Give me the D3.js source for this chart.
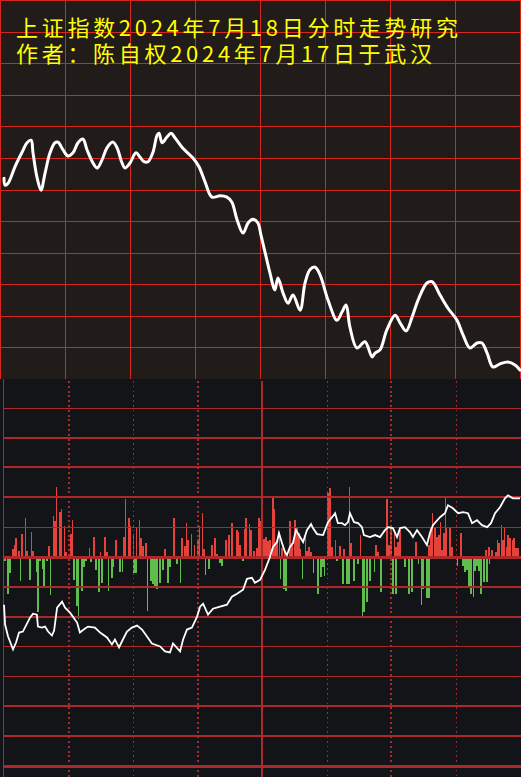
<!DOCTYPE html>
<html><head><meta charset="utf-8">
<script src="https://cdn.jsdelivr.net/npm/d3@7"></script>
<style>html,body{margin:0;padding:0;background:#131417;overflow:hidden}</style>
</head><body><svg id="c" width="521" height="777"></svg>
<script>
// ---------------- DATA ----------------
const titleLines = ["上证指数2024年7月18日分时走势研究", "作者：陈自权2024年7月17日于武汉"];
const priceTicks = [2945,2950,2955,2960,2965,2970,2975,2980,2985,2990,2995,3000];
const volTicks = [-210,-180,-150,-120,-90,-60,-30,0,30,60,90,120,150];
const timeTicks = [30,60,90,120,150,180,210];
const columnTicks = [0,1,2,3,4,5,6,7,8];

// [minute, index value]
const priceLine = [[0,2971.8],[0.5,2970.7],[1.9,2971.0],[5.1,2973.6],[8.4,2975.9],[10.7,2977.4],[12.6,2977.8],[13.5,2975.8],[15.3,2972.0],[17.2,2969.9],[19.1,2972.6],[21.4,2975.8],[23.7,2977.4],[25.1,2977.5],[27.4,2976.3],[29.8,2975.3],[32.1,2975.8],[34.4,2977.4],[36.7,2978.0],[38.6,2976.3],[41.4,2974.2],[43.3,2973.4],[45.6,2974.7],[47.9,2976.6],[50.7,2977.5],[52.6,2976.6],[54.9,2974.2],[56.3,2973.4],[58.6,2974.2],[61.4,2975.8],[63.3,2975.1],[65.1,2974.4],[67.0,2974.4],[69.3,2975.9],[71.2,2978.6],[72.1,2978.9],[73.5,2977.4],[75.8,2978.3],[77.7,2978.9],[79.5,2978.2],[82.8,2976.7],[85.1,2975.9],[87.9,2975.0],[90.7,2973.6],[93.5,2971.2],[96.7,2968.8],[100.5,2969.0],[103.7,2968.8],[106.0,2968.0],[108.4,2965.2],[111.2,2963.1],[113.5,2964.7],[115.8,2965.3],[118.1,2964.7],[119.5,2962.8],[121.4,2960.1],[123.7,2956.8],[126.0,2954.1],[127.4,2956.0],[129.8,2953.6],[132.1,2952.0],[134.4,2953.3],[137.7,2950.9],[140.0,2955.2],[142.3,2957.3],[144.7,2957.7],[147.0,2956.5],[150.7,2952.5],[154.9,2949.3],[157.2,2950.6],[159.1,2951.7],[160.9,2948.2],[164.2,2944.9],[167.9,2945.9],[171.2,2943.5],[172.6,2944.1],[174.9,2944.6],[178.1,2947.8],[181.9,2950.1],[184.2,2948.9],[187.0,2947.6],[189.8,2949.8],[192.6,2952.5],[196.7,2955.2],[199.1,2955.4],[202.8,2953.3],[206.5,2951.2],[210.7,2949.3],[213.5,2947.0],[216.7,2944.9],[220.0,2945.7],[222.3,2945.7],[224.7,2944.1],[227.4,2941.9],[230.7,2942.4],[234.4,2942.7],[237.7,2942.2],[240.0,2941.4]];

// [minute, cumulative flow]
const flowLine = [[0,-48],[0.5,-68],[1.9,-80],[4.2,-93],[5.6,-86],[7.0,-76],[8.8,-75],[12.1,-61],[13.5,-57],[15.3,-58],[15.8,-70],[17.7,-71],[19.1,-70],[20.5,-75],[22.3,-79],[23.3,-74],[24.7,-51],[27.0,-45],[28.4,-51],[30.7,-56],[34.0,-66],[35.3,-76],[37.7,-72],[39.1,-70],[42.3,-71],[44.7,-76],[47.9,-81],[50.2,-88],[51.6,-83],[53.5,-91],[55.3,-83],[57.2,-75],[59.5,-71],[61.9,-69],[64.2,-73],[66.5,-80],[68.8,-87],[72.6,-90],[74.9,-95],[77.2,-96],[78.6,-87],[81.9,-95],[83.3,-83],[85.1,-73],[87.4,-71],[89.8,-60],[91.2,-50],[92.6,-47],[94.9,-58],[97.2,-52],[100.5,-50],[103.7,-48],[106.0,-40],[108.4,-37],[111.2,-33],[113.0,-22],[115.3,-21],[116.7,-26],[119.1,-23],[121.4,-13],[123.7,0],[125.1,10],[127.0,15],[127.9,24],[129.3,14],[130.7,5],[131.6,2],[133.0,10],[134.4,14],[135.8,27],[137.7,20],[139.1,15],[140.9,27],[142.8,33],[143.7,29],[145.6,23],[148.4,22],[150.7,35],[152.6,40],[154.0,44],[155.3,34],[157.2,34],[158.6,32],[160.0,35],[160.9,44],[162.8,35],[164.7,34],[166.5,30],[167.4,22],[170.2,20],[172.6,22],[174.9,20],[177.2,27],[178.6,30],[180.9,29],[182.8,20],[184.2,29],[186.5,30],[188.8,25],[190.2,20],[192.1,27],[194.4,20],[196.7,12],[198.1,24],[199.5,32],[202.8,40],[205.1,44],[206.5,52],[208.8,49],[211.2,44],[213.5,45],[215.8,44],[217.7,34],[220.0,37],[222.3,32],[224.7,30],[226.5,34],[228.4,44],[230.7,50],[233.0,59],[234.4,62],[236.7,59],[240.0,59]];

// [minute, volume]
const upBars = [[3.7,8],[4.7,12],[5.1,19],[6.5,6],[7.9,23],[10.2,6],[13.0,6],[20.5,11],[23.3,36],[25.6,45],[28.4,5],[30.7,23],[41.4,20],[46.5,20],[47.4,5],[51.6,17],[55.3,20],[57.7,39],[63.3,19],[64.2,11],[65.6,14],[74.4,8],[78.6,39],[82.3,19],[83.7,11],[85.1,17],[89.8,16],[92.6,8],[96.3,12],[97.7,19],[98.6,3],[102.8,17],[104.2,22],[105.6,34],[107.9,27],[109.3,12],[112.1,39],[114.4,27],[115.8,6],[117.2,9],[118.1,39],[119.1,36],[120.5,18],[121.4,20],[122.3,16],[123.3,17],[124.7,61],[125.1,48],[126.0,15],[126.5,17],[128.8,9],[130.2,6],[132.6,36],[133.5,14],[134.9,37],[135.8,30],[136.7,24],[137.2,8],[140.5,6],[141.4,10],[142.3,5],[150.2,64],[151.2,69],[152.1,10],[155.8,11],[157.7,8],[160.9,14],[172.6,12],[173.5,5],[177.7,58],[178.6,12],[179.5,29],[181.9,10],[182.8,15],[183.7,27],[191.2,15],[197.2,12],[198.1,29],[200.0,30],[200.9,20],[201.9,22],[203.3,7],[204.2,24],[205.1,30],[207.0,30],[207.9,10],[212.1,24],[223.7,7],[225.1,10],[226.5,7],[228.4,5],[229.8,14],[231.6,17],[233.5,10],[234.0,22],[234.9,19],[236.7,19],[237.7,9],[238.6,9]];
const upSpikes = [[9.8,39],[12.6,25],[22.8,41],[24.2,70],[26.5,48],[27.9,31],[31.6,37],[39.5,9],[44.7,5],[56.3,58],[58.6,31],[60.0,23],[61.4,30],[62.8,37],[84.7,34],[87.0,23],[88.4,12],[90.7,31],[92.1,44],[108.8,25],[111.6,28],[114.0,33],[127.9,25],[140.0,23],[154.0,17],[160.5,70],[165.6,22],[181.4,25],[199.1,44],[202.8,35],[205.1,59],[229.3,17],[231.2,32],[232.6,30],[236.3,17]];
const downBars = [[0.0,-4],[1.4,-37],[2.3,-16],[11.6,-23],[14.9,-15],[15.3,-55],[16.3,-4],[17.7,-12],[18.1,-29],[19.5,-4],[32.1,-23],[33.5,-49],[35.8,-34],[36.7,-10],[37.7,-4],[40.0,-5],[42.3,-13],[43.7,-35],[45.1,-26],[49.8,-21],[50.2,-10],[52.6,-2],[53.5,-15],[60.0,-16],[60.9,-16],[67.9,-24],[68.8,-27],[69.8,-30],[70.7,-32],[72.1,-26],[73.5,-13],[75.8,-26],[76.7,-10],[80.0,-7],[87.4,-2],[94.9,-12],[100.0,-6],[100.9,-9],[110.7,-4],[129.8,-32],[130.7,-34],[145.6,-37],[147.0,-20],[147.9,-10],[154.4,-4],[157.2,-27],[159.1,-27],[160.0,-27],[162.3,-24],[164.2,-7],[167.0,-55],[168.4,-45],[169.8,-24],[174.9,-35],[180.5,-37],[181.9,-37],[186.0,-10],[187.9,-37],[189.3,-35],[194.4,-32],[196.3,-41],[197.2,-41],[213.0,-9],[213.9,-15],[214.9,-13],[215.8,-29],[216.7,-37],[218.6,-14],[219.5,-9],[220.5,-14],[221.4,-37],[222.8,-25],[224.2,-25]];
const downSpikes = [[7.4,-24],[21.4,-38],[34.4,-62],[48.4,-34],[54.9,-15],[66.5,-54],[81.9,-26],[93.5,-18],[128.4,-22],[138.6,-22],[143.7,-16],[148.8,-19],[166.5,-59],[172.1,-15],[192.6,-7],[194.0,-48],[210.7,-9],[218.1,-40],[225.6,-7]];

// ---------------- DRAW ----------------
const W = 521, H = 777, TOP_H = 379;
const svg = d3.select("#c");
const x = d3.scaleLinear().domain([0, 240]).range([4, 520]);
const col = d3.scaleLinear().domain([0, 8]).range([0.5, 520.5]);
const yPrice = d3.scaleLinear().domain([2940, 3000]).range([TOP_H, 0]);
const yVol = d3.scaleLinear().domain([-210, 150]).range([765.8, 407.8]);

const gridRed = "#d8261f", lowRed = "#ad2828";

// panels
svg.append("rect").attr("x",0).attr("y",0).attr("width",W).attr("height",TOP_H).attr("fill","#211b1a");
svg.append("rect").attr("x",0).attr("y",TOP_H).attr("width",W).attr("height",H-TOP_H).attr("fill","#131417");

const gTop = svg.append("g");
gTop.selectAll("line.h").data(priceTicks).join("line")
  .attr("x1",0).attr("x2",W)
  .attr("y1",d=>Math.round(yPrice(d))+0.5).attr("y2",d=>Math.round(yPrice(d))+0.5)
  .attr("stroke",gridRed).attr("stroke-width",1);
gTop.selectAll("line.v").data(columnTicks).join("line")
  .attr("x1",d=>col(d)).attr("x2",d=>col(d))
  .attr("y1",0).attr("y2",TOP_H)
  .attr("stroke",gridRed).attr("stroke-width",1);

svg.append("defs").append("clipPath").attr("id","topclip")
  .append("rect").attr("x",0).attr("y",0).attr("width",W).attr("height",TOP_H);

svg.append("path").datum(priceLine)
  .attr("clip-path","url(#topclip)")
  .attr("d", d3.line().x(d=>x(d[0])).y(d=>yPrice(d[1])).curve(d3.curveCatmullRom.alpha(0.5)))
  .attr("fill","none").attr("stroke","#ffffff").attr("stroke-width",3)
  .attr("stroke-linejoin","round").attr("stroke-linecap","round");

// title: one text block, two lines
const title = svg.append("text")
  .attr("font-family","'Noto Sans CJK SC', sans-serif")
  .attr("fill","#ffff00").attr("font-size",22);
title.selectAll("tspan").data(titleLines).join("tspan")
  .attr("x",16).attr("y",(d,i)=>35.5 + i*26.5)
  .attr("textLength",(d,i)=> i===0 ? 442 : 416)
  .attr("lengthAdjust","spacing")
  .text(d=>d);

// bottom panel bars
const gBars = svg.append("g").attr("shape-rendering","crispEdges");
const y0 = yVol(0);
gBars.selectAll("rect.ub").data(upBars).join("rect")
  .attr("x",d=>Math.round(x(d[0]))).attr("width",2)
  .attr("y",d=>yVol(d[1])).attr("height",d=>y0-yVol(d[1]))
  .attr("fill","#e5423c");
gBars.selectAll("rect.us").data(upSpikes).join("rect")
  .attr("x",d=>Math.round(x(d[0]))).attr("width",1)
  .attr("y",d=>yVol(d[1])).attr("height",d=>y0-yVol(d[1]))
  .attr("fill","#e5423c");
gBars.selectAll("rect.db").data(downBars).join("rect")
  .attr("x",d=>Math.round(x(d[0]))).attr("width",2)
  .attr("y",y0).attr("height",d=>yVol(d[1])-y0)
  .attr("fill","#5fbd4e");
gBars.selectAll("rect.ds").data(downSpikes).join("rect")
  .attr("x",d=>Math.round(x(d[0]))).attr("width",1)
  .attr("y",y0).attr("height",d=>yVol(d[1])-y0)
  .attr("fill","#5fbd4e");

// bottom grid
const hWidths = [1,2,2,2,1,3,2,2,1,1,2,2,3].reverse();
const gLow = svg.append("g").attr("shape-rendering","crispEdges");
gLow.selectAll("line").data(volTicks).join("line")
  .attr("x1",4).attr("x2",W)
  .attr("y1",d=>Math.round(yVol(d))).attr("y2",d=>Math.round(yVol(d)))
  .attr("stroke",lowRed).attr("stroke-width",(d,i)=>hWidths[i]);
gLow.append("line").attr("x1",3.5).attr("x2",3.5).attr("y1",TOP_H).attr("y2",H)
  .attr("stroke",lowRed).attr("stroke-width",1);
const thick = new Set([30,90,180]);
gLow.selectAll("line.t").data(timeTicks).join("line")
  .attr("x1",d=>Math.round(x(d))).attr("x2",d=>Math.round(x(d)))
  .attr("y1",TOP_H+2).attr("y2",H)
  .attr("stroke",lowRed)
  .attr("stroke-width",d=> d===120 ? 2 : (thick.has(d) ? 2 : 1))
  .attr("stroke-dasharray",d=> d===120 ? null : (thick.has(d) ? "2 2.8" : "1.5 3.3"));

// flow line
svg.append("path").datum(flowLine)
  .attr("d", d3.line().x(d=>x(d[0])).y(d=>yVol(d[1])))
  .attr("fill","none").attr("stroke","#ffffff").attr("stroke-width",1.8)
  .attr("stroke-linejoin","miter");
</script>
</body></html>
